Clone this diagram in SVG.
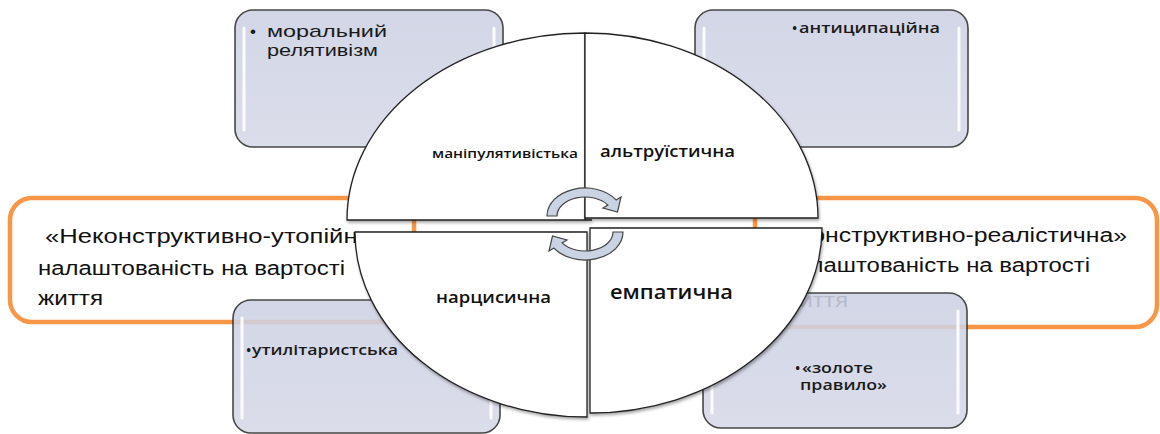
<svg xmlns="http://www.w3.org/2000/svg" width="1160" height="434" viewBox="0 0 1160 434">
<defs>
<linearGradient id="lav" x1="0" y1="0" x2="0" y2="1">
<stop offset="0" stop-color="#cdd1e3"/>
<stop offset="1" stop-color="#d6d9e8"/>
</linearGradient>
<filter id="sh" x="-10%" y="-10%" width="120%" height="120%">
<feDropShadow dx="1" dy="2" stdDeviation="1.5" flood-color="#000" flood-opacity="0.35"/>
</filter>
<style>
.orange{fill:#ffffff;stroke:#f79646;stroke-width:4.5}
.box{fill:url(#lav);stroke:#2e2e2e;stroke-width:1.6;opacity:0.88}
.hl{stroke:#ffffff;stroke-width:3;stroke-linecap:round;opacity:0.9}
.q{fill:#ffffff;stroke:#222;stroke-width:1.3;filter:url(#sh)}
.arr{fill:#c9d3e3;stroke:#444;stroke-width:1.2}
.ot{font-family:"Liberation Sans",Arial,sans-serif;font-size:20px;fill:#111}
.bt{font-family:"Open Sans","Liberation Sans",sans-serif;fill:#1a1a1a}
.bl{font-family:"Liberation Sans",Arial,sans-serif;fill:#1a1a1a}
.ql{font-family:"Open Sans","Liberation Sans",sans-serif;font-weight:600;fill:#111}
</style>
</defs>
<rect width="1160" height="434" fill="#ffffff"/>

<g id="left-orange">
<rect class="orange" x="10" y="198" width="404" height="124" rx="22"/>
<text class="ot" x="38" y="243" textLength="348" lengthAdjust="spacingAndGlyphs" xml:space="preserve"> «Неконструктивно-утопійна»</text>
<text class="ot" x="38" y="275" textLength="307" lengthAdjust="spacingAndGlyphs">налаштованість на вартості</text>
<text class="ot" x="38" y="305" textLength="65" lengthAdjust="spacingAndGlyphs">життя</text>
</g>

<g id="right-orange">
<rect class="orange" x="755" y="198" width="402" height="129" rx="22"/>
<text class="ot" x="783" y="242" textLength="344" lengthAdjust="spacingAndGlyphs">«Конструктивно-реалістична»</text>
<text class="ot" x="783" y="272" textLength="307" lengthAdjust="spacingAndGlyphs">налаштованість на вартості</text>
<text class="ot" x="783" y="307" textLength="65" lengthAdjust="spacingAndGlyphs">життя</text>
</g>

<g id="box-top-left">
<rect class="box" x="235" y="10" width="268" height="137" rx="18"/>
<line class="hl" x1="244" y1="28" x2="244" y2="130"/>
<line class="hl" x1="494" y1="28" x2="494" y2="130"/>
<text class="bl" x="250" y="37" font-size="17">•</text>
<text class="bl" x="267" y="37" font-size="17" textLength="120" lengthAdjust="spacingAndGlyphs">моральний</text>
<text class="bl" x="267" y="56" font-size="17" textLength="111" lengthAdjust="spacingAndGlyphs">релятивізм</text>
</g>

<g id="box-top-right">
<rect class="box" x="695" y="10" width="273" height="137" rx="18"/>
<line class="hl" x1="704" y1="28" x2="704" y2="130"/>
<line class="hl" x1="959" y1="28" x2="959" y2="130"/>
<text class="bt" x="792" y="33" font-size="14" font-weight="600">•</text>
<text class="bt" x="799" y="33" font-size="14" font-weight="600" textLength="141" lengthAdjust="spacingAndGlyphs">антиципаційна</text>
</g>

<g id="box-bottom-left">
<rect class="box" x="233" y="300" width="267" height="133" rx="18"/>
<line class="hl" x1="242" y1="318" x2="242" y2="418"/>
<line class="hl" x1="491" y1="318" x2="491" y2="418"/>
<text class="bt" x="246" y="355" font-size="14" font-weight="600">•</text>
<text class="bt" x="252" y="355" font-size="14" font-weight="600" textLength="146" lengthAdjust="spacingAndGlyphs">утилітаристська</text>
</g>

<g id="box-bottom-right">
<rect class="box" x="703" y="293" width="264" height="135" rx="18"/>
<line class="hl" x1="712" y1="311" x2="712" y2="413"/>
<line class="hl" x1="958" y1="311" x2="958" y2="413"/>
<text class="bt" x="795" y="373" font-size="14" font-weight="600">•</text>
<text class="bt" x="802" y="373" font-size="14" font-weight="600" textLength="71" lengthAdjust="spacingAndGlyphs">«золоте</text>
<text class="bt" x="800" y="390" font-size="14" font-weight="600" textLength="87" lengthAdjust="spacingAndGlyphs">правило»</text>
</g>

<g id="q-top-left">
<path class="q" d="M 592,220 L 347,220 A 238 187 0 0 1 585,33 L 585,220 Z"/>
<text class="ql" x="578" y="158" font-size="13" text-anchor="end" textLength="146" lengthAdjust="spacingAndGlyphs">маніпулятивістька</text>
</g>
<g id="q-top-right">
<path class="q" d="M 585,218 L 585,33 A 233 185 0 0 1 818,218 Z"/>
<text class="ql" x="600" y="157" font-size="16" textLength="135" lengthAdjust="spacingAndGlyphs">альтруїстична</text>
</g>
<g id="q-bottom-left">
<path class="q" d="M 587,232 L 587,417 A 232 185 0 0 1 355,232 Z"/>
<text class="ql" x="436" y="303" font-size="16" textLength="115" lengthAdjust="spacingAndGlyphs">нарцисична</text>
</g>
<g id="q-bottom-right">
<path class="q" d="M 590,228 L 822,228 A 232 185 0 0 1 590,413 Z"/>
<text class="ql" x="610" y="299" font-size="19" textLength="123" lengthAdjust="spacingAndGlyphs">емпатична</text>
</g>

<g id="connectors">
<path class="arr" d="M 547,216 A 38 28 0 0 1 616.1,199.9 L 621,197 L 617.5,212 L 603,208 L 607.9,205.1 A 28 19 0 0 0 557,216 Z"/>
<path class="arr" transform="rotate(180 585 224)" d="M 547,216 A 38 28 0 0 1 616.1,199.9 L 621,197 L 617.5,212 L 603,208 L 607.9,205.1 A 28 19 0 0 0 557,216 Z"/>
</g>
</svg>
